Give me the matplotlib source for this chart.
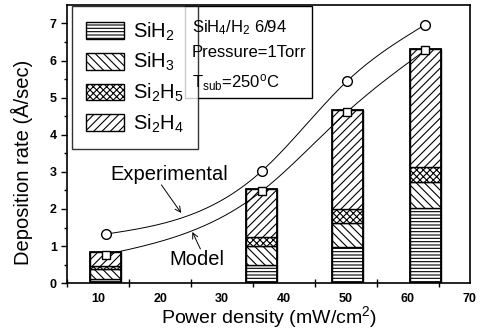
import numpy as np
import matplotlib
matplotlib.use("Agg")
import matplotlib.pyplot as plt
from matplotlib.patches import Patch, Rectangle

plt.rcParams['font.family'] = ['Liberation Sans', 'DejaVu Sans']
plt.rcParams['mathtext.default'] = 'regular'
plt.rcParams['hatch.linewidth'] = 0.8

# data
power = [11.2, 36.4, 50.2, 62.8]
exp_rate = [1.32, 3.02, 5.45, 6.97]
model_rate = [0.77, 2.48, 4.62, 6.28]
sih2 = [0.12, 0.50, 0.97, 2.02]
sih3 = [0.26, 0.50, 0.65, 0.70]
si2h5 = [0.07, 0.25, 0.38, 0.41]
si2h4 = [0.40, 1.30, 2.67, 3.17]
species = ['SiH$_2$', 'SiH$_3$', 'Si$_2$H$_5$', 'Si$_2$H$_4$']
hatches = ['-----', '\\\\\\\\', 'xxxxx', '////']


def spline(x, y, xs):
    # natural cubic spline through the points
    x = np.asarray(x, float)
    y = np.asarray(y, float)
    n = len(x)
    h = np.diff(x)
    A = np.zeros((n, n))
    b = np.zeros(n)
    A[0, 0] = A[-1, -1] = 1
    for i in range(1, n - 1):
        A[i, i - 1] = h[i - 1]
        A[i, i] = 2 * (h[i - 1] + h[i])
        A[i, i + 1] = h[i]
        b[i] = 6 * ((y[i + 1] - y[i]) / h[i] - (y[i] - y[i - 1]) / h[i - 1])
    M = np.linalg.solve(A, b)
    out = []
    for t in xs:
        i = min(np.searchsorted(x, t) - 1, n - 2)
        i = max(i, 0)
        a, c = x[i + 1] - t, t - x[i]
        out.append(M[i] * a**3 / (6 * h[i]) + M[i + 1] * c**3 / (6 * h[i])
                   + (y[i] / h[i] - M[i] * h[i] / 6) * a
                   + (y[i + 1] / h[i] - M[i + 1] * h[i] / 6) * c)
    return np.array(out)


fig = plt.figure(figsize=(4.8, 3.3), dpi=100)
ax = fig.add_axes([0.14, 0.142, 0.839, 0.843])

bottom = np.zeros(4)
for vals, hat in zip([sih2, sih3, si2h5, si2h4], hatches):
    ax.bar(power, vals, width=5.0, bottom=bottom, color='white',
           edgecolor='black', hatch=hat, linewidth=1.0, zorder=2)
    bottom += np.array(vals)
ax.bar(power, bottom, width=5.0, fill=False, edgecolor='black', linewidth=1.3, zorder=3)

xs = np.linspace(power[0], power[-1], 200)
ax.plot(xs, spline(power, exp_rate, xs), color='black', lw=0.7, zorder=4)
ax.plot(xs, spline(power, model_rate, xs), color='black', lw=0.7, zorder=4)
ax.plot(power, exp_rate, 'o', ms=7, mfc='white', mec='black', mew=1.0, zorder=5)
ax.plot(power, model_rate, 's', ms=6, mfc='white', mec='black', mew=1.0, zorder=5)

# labels with arrows pointing to the curves
ax.text(21.5, 2.92, 'Experimental', ha='center', va='center', fontsize=14.5)
ax.annotate('', xy=(23.4, 1.89), xytext=(20.2, 2.65),
            arrowprops=dict(arrowstyle='->', lw=0.7, shrinkA=0, shrinkB=0))
ax.text(25.9, 0.64, 'Model', ha='center', va='center', fontsize=14.5)
ax.annotate('', xy=(25.2, 1.38), xytext=(26.5, 0.92),
            arrowprops=dict(arrowstyle='->', lw=0.7, shrinkA=0, shrinkB=0))

ax.set_xlim(5, 70)
ax.set_ylim(0, 7.5)
ax.set_xticks([10, 20, 30, 40, 50, 60, 70])
ax.set_xticks([5, 15, 25, 35, 45, 55, 65], minor=True)
ax.set_yticks(range(8))
ax.set_yticks(np.arange(0.5, 7.5, 1), minor=True)
ax.tick_params(axis='x', which='major', length=0, pad=7, labelsize=9)
ax.tick_params(axis='x', which='minor', direction='inout', length=6, width=1.0)
ax.tick_params(axis='y', which='major', direction='out', length=4, width=1.0, labelsize=9)
ax.tick_params(axis='y', which='minor', direction='out', length=2.5, width=1.0)
for lab in ax.get_xticklabels() + ax.get_yticklabels():
    lab.set_fontweight('bold')
for sp in ax.spines.values():
    sp.set_linewidth(1.2)

ax.set_xlabel('Power density (mW/cm$^2$)', fontsize=14)
ax.xaxis.set_label_coords(0.5, -0.075)
ax.xaxis.label.set_va('top')
ax.set_ylabel('Deposition rate (Å/sec)', fontsize=14.5)
ax.yaxis.set_label_coords(-0.085, 0.435)

handles = [Patch(facecolor='white', edgecolor='black', hatch=h, linewidth=1.0) for h in hatches]
leg = ax.legend(handles, species, loc='upper left', bbox_to_anchor=(0.012, 0.995),
                fontsize=14.5, frameon=True, fancybox=False, edgecolor='black',
                handlelength=1.9, handleheight=0.9, labelspacing=0.42,
                borderpad=0.7, handletextpad=0.45, borderaxespad=0)
leg.get_frame().set_linewidth(1.0)
leg.set_zorder(6)

ax.add_patch(Rectangle((0.293, 0.665), 0.315, 0.33, transform=ax.transAxes,
                       facecolor='white', edgecolor='black', lw=1.0, zorder=6))
ax.text(0.31, 0.92, 'SiH$_4$/H$_2$ 6/94', transform=ax.transAxes, fontsize=12,
        va='center', zorder=7)
ax.text(0.31, 0.83, 'Pressure=1Torr', transform=ax.transAxes, fontsize=12,
        va='center', zorder=7)
ax.text(0.31, 0.72, 'T$_{sub}$=250$^o$C', transform=ax.transAxes, fontsize=12,
        va='center', zorder=7)

fig.savefig('out.png', dpi=100)
